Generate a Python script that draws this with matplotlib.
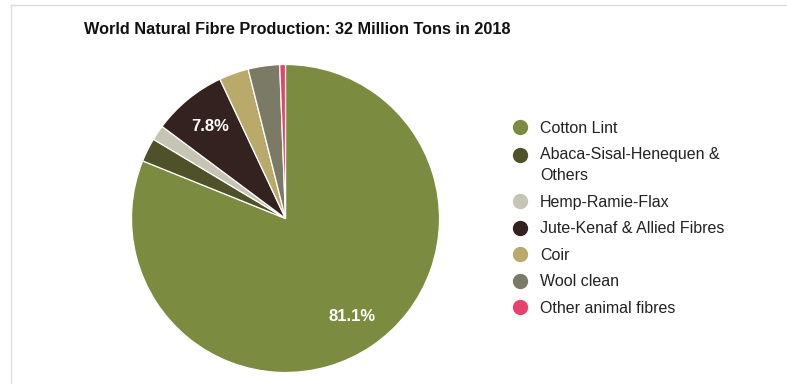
import matplotlib

matplotlib.use("Agg")
import matplotlib.pyplot as plt
from matplotlib.legend_handler import HandlerLine2D
from matplotlib.lines import Line2D

plt.rcParams["font.family"] = ["Liberation Sans", "DejaVu Sans"]

# world natural fibre production 2018, share in %
fibres = [
    "Cotton Lint",
    "Abaca-Sisal-Henequen &\nOthers",
    "Hemp-Ramie-Flax",
    "Jute-Kenaf & Allied Fibres",
    "Coir",
    "Wool clean",
    "Other animal fibres",
]
shares = [81.1, 2.5, 1.6, 7.8, 3.1, 3.3, 0.6]
colours = ["#7b8b3f", "#4f5229", "#c6c4b3", "#33221f", "#b9aa6b", "#7a7a65", "#e8426c"]


class FirstLineHandler(HandlerLine2D):
    """Puts the marker next to the first line of a two-line label."""

    def __init__(self, lift, **kw):
        super().__init__(**kw)
        self.lift = lift

    def create_artists(self, legend, orig_handle, xdescent, ydescent,
                       width, height, fontsize, trans):
        return super().create_artists(legend, orig_handle, xdescent,
                                      ydescent - 2 * self.lift, width, height,
                                      fontsize, trans)


W, H = 787, 385
fig = plt.figure(figsize=(W / 100, H / 100), dpi=100)

# pie centre and radius in pixels
cx, cy, r = 285.5, 218.5, 154
ax = fig.add_axes([(cx - r) / W, (H - cy - r) / H, 2 * r / W, 2 * r / H])

wedges, _, autotexts = ax.pie(
    shares,
    colors=colours,
    startangle=90,
    counterclock=False,
    autopct=lambda p: f"{p:.1f}%" if p >= 5 else "",
    pctdistance=0.77,
    wedgeprops=dict(edgecolor="white", linewidth=0.9),
    textprops=dict(color="white", fontsize=12, fontweight="bold"),
)
ax.set_aspect("equal")
ax.set_xlim(-1, 1)
ax.set_ylim(-1, 1)
ax.axis("off")

fig.text(84 / W, 1 - 30 / H, "World Natural Fibre Production: 32 Million Tons in 2018",
         fontsize=11.7, fontweight="bold", color="#111111", va="center", ha="left")

handles = [
    Line2D([], [], marker="o", linestyle="none", markersize=10,
           markerfacecolor=c, markeredgecolor=c)
    for c in colours
]
handler_map = {h: FirstLineHandler(7.5) for h, lab in zip(handles, fibres) if "\n" in lab}
leg = fig.legend(
    handles, fibres,
    loc="upper left",
    bbox_to_anchor=(506.5 / W, 1 - 114.5 / H),
    frameon=False,
    fontsize=11.5,
    handlelength=0.9,
    handletextpad=0.8,
    labelspacing=0.72,
    borderaxespad=0,
    handler_map=handler_map,
)
for t in leg.get_texts():
    t.set_color("#222222")
    t.set_linespacing(1.5)

# thin panel border on the left and top
fig.add_artist(Line2D([11 / W, 11 / W], [1 - 383 / H, 1 - 5 / H],
                      transform=fig.transFigure, color="#dddddd", lw=1))
fig.add_artist(Line2D([11 / W, 1], [1 - 5 / H, 1 - 5 / H],
                      transform=fig.transFigure, color="#dddddd", lw=1))

fig.savefig("out.png", dpi=100)
